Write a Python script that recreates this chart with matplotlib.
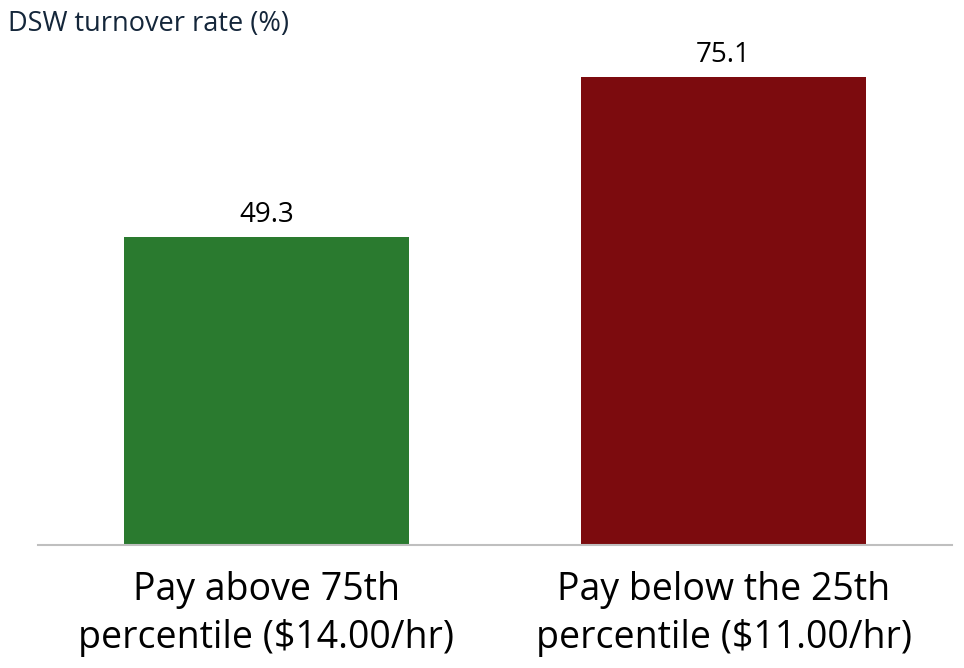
import matplotlib
matplotlib.use("Agg")
import matplotlib.pyplot as plt

categories = ["Pay above 75th\npercentile ($14.00/hr)", "Pay below the 25th\npercentile ($11.00/hr)"]
values = [49.3, 75.1]
labels = ["49.3", "75.1"]
colors = ["#2a7a2f", "#7c0b0e"]
title = "DSW turnover rate (%)"

fig = plt.figure(figsize=(9.64, 6.68), dpi=100)
ax = fig.add_axes([38/964, (668-545)/668, (952-38)/964, (545-46)/668])
x = list(range(len(values)))
bars = ax.bar(x, values, width=0.625, color=colors, zorder=2)
ax.set_xlim(-0.5, 1.5)
ax.set_ylim(0, 80)
for s in ["top", "right", "left"]:
    ax.spines[s].set_visible(False)
ax.spines["bottom"].set_color("#bfbfbf")
ax.spines["bottom"].set_linewidth(1.5)
ax.set_yticks([])
ax.set_xticks(x)
ax.set_xticklabels(categories, fontsize=27, family="Open Sans", linespacing=1.34)
ax.tick_params(axis="x", length=0, pad=19)
for xi, v, lab in zip(x, values, labels):
    ax.annotate(lab, (xi, v), xytext=(0, 10.8), textcoords="offset points",
                ha="center", va="baseline", fontsize=20, family="Open Sans", color="#000000")
fig.text(8/964, 1 - 31/668, title, ha="left", va="baseline", fontsize=19.5,
         family="Open Sans", color="#14263a")
fig.savefig("out.png", dpi=100)
